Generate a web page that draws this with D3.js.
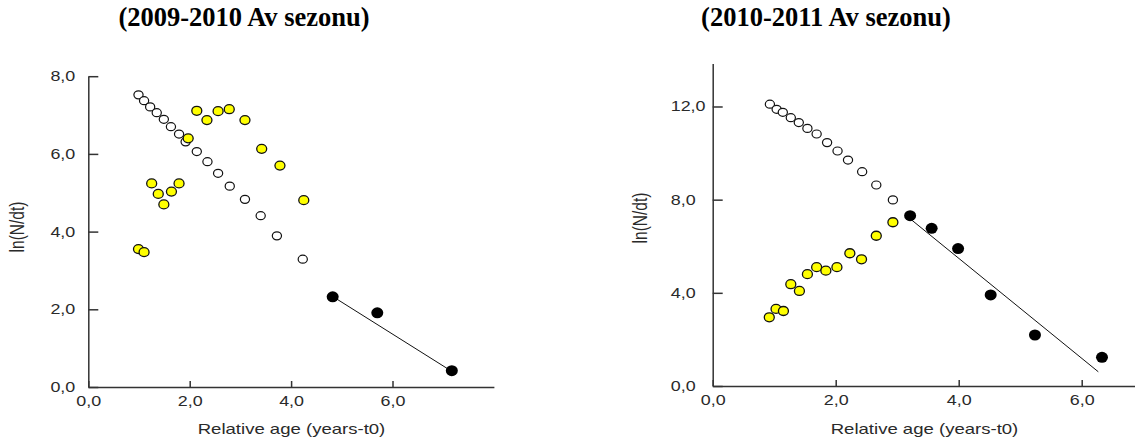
<!DOCTYPE html>
<html>
<head>
<meta charset="utf-8">
<script src="https://cdn.jsdelivr.net/npm/d3@7"></script>
<style>
  body { margin: 0; background: #fff; }
  svg { display: block; }
</style>
</head>
<body>
<svg id="chart" width="1135" height="445"></svg>
<script>
// left panel, 2009-2010 season
const titleLeft = '(2009-2010 Av sezonu)'
const openAgeLeft = [0.99, 1.10, 1.22, 1.35, 1.49, 1.63, 1.79, 1.92, 2.14, 2.35, 2.56, 2.79, 3.09, 3.40, 3.72, 4.23]
const openLnLeft = [7.52, 7.37, 7.21, 7.06, 6.89, 6.70, 6.51, 6.31, 6.06, 5.80, 5.50, 5.17, 4.83, 4.41, 3.89, 3.29]
const yellowAgeLeft = [0.99, 1.10, 1.25, 1.38, 1.49, 1.64, 1.79, 1.97, 2.14, 2.34, 2.56, 2.78, 3.09, 3.42, 3.78, 4.25]
const yellowLnLeft = [3.55, 3.47, 5.24, 4.97, 4.70, 5.03, 5.24, 6.40, 7.11, 6.87, 7.10, 7.15, 6.87, 6.13, 5.70, 4.81]
const blackAgeLeft = [4.82, 5.70, 7.17]
const blackLnLeft = [2.32, 1.91, 0.42]
const fitAgeLeft = [4.82, 7.10]
const fitLnLeft = [2.33, 0.46]
const tickXLeft = [0, 2, 4, 6]
const tickYLeft = [0, 2, 4, 6, 8]

// right panel, 2010-2011 season
const titleRight = '(2010-2011 Av sezonu)'
const openAgeRight = [0.93, 1.04, 1.14, 1.27, 1.40, 1.54, 1.69, 1.86, 2.03, 2.20, 2.43, 2.66, 2.93]
const openLnRight = [12.10, 11.88, 11.75, 11.52, 11.31, 11.06, 10.82, 10.45, 10.09, 9.70, 9.20, 8.63, 7.99]
const yellowAgeRight = [0.92, 1.03, 1.15, 1.27, 1.41, 1.54, 1.69, 1.84, 2.02, 2.23, 2.42, 2.66, 2.93]
const yellowLnRight = [2.95, 3.31, 3.22, 4.37, 4.08, 4.80, 5.10, 4.95, 5.10, 5.70, 5.44, 6.45, 7.03]
const blackAgeRight = [3.21, 3.56, 3.99, 4.52, 5.24, 6.33]
const blackLnRight = [7.31, 6.77, 5.90, 3.91, 2.19, 1.23]
const fitAgeRight = [3.21, 6.27]
const fitLnRight = [7.18, 0.61]
const tickXRight = [0, 2, 4, 6]
const tickYRight = [0, 4, 8, 12]

const xLabel = 'Relative age (years-t0)'
const yLabel = 'ln(N/dt)'

const svg = d3.select('#chart')
const stretch = 1.28
const sans = "'Liberation Sans', Arial, sans-serif"
const fmt = (d) => d3.format('.1f')(d).replace('.', ',')
const zip = (a, b) => a.map((v, i) => [v, b[i]])

const drawPanel = (p) => {
  const x = d3.scaleLinear().domain(p.xDomain).range(p.xRange)
  const y = d3.scaleLinear().domain(p.yDomain).range(p.yRange)
  const g = svg.append('g')

  g.append('text')
    .attr('x', p.titleX)
    .attr('y', 26)
    .attr('text-anchor', 'middle')
    .style('font-family', "'Liberation Serif', 'Times New Roman', serif")
    .style('font-weight', 'bold')
    .style('font-size', '26.5px')
    .text(p.title)

  // y axis, ticks point inward
  const ya = g.append('g')
    .attr('transform', `translate(${x(0)},0)`)
    .call(d3.axisLeft(y).tickValues(p.yTicks).tickFormat(fmt).tickSizeInner(-10).tickSizeOuter(0))
  ya.selectAll('text')
    .attr('x', null)
    .attr('text-anchor', p.yAnchor)
    .attr('transform', `translate(${p.yLabelDx},0) scale(${stretch},1)`)

  const xa = g.append('g')
    .attr('transform', `translate(0,${y(0)})`)
    .call(d3.axisBottom(x).tickValues(p.xTicks).tickFormat(fmt).tickSizeInner(-6).tickSizeOuter(0))
  xa.selectAll('text')
    .attr('y', null)
    .attr('transform', `translate(0,9) scale(${stretch},1)`)

  g.selectAll('.domain, .tick line').attr('stroke', '#333').attr('stroke-width', 1.5)
  g.selectAll('.tick text')
    .style('font-family', sans)
    .style('font-size', '14px')
    .attr('fill', '#2a2a2a')

  g.append('text')
    .attr('transform', `translate(${p.xTitleX},434) scale(${stretch},1)`)
    .attr('text-anchor', 'middle')
    .style('font-family', sans)
    .style('font-size', '14.5px')
    .attr('fill', '#2a2a2a')
    .text(xLabel)

  g.append('text')
    .attr('transform', `translate(${p.yTitleX},${p.yTitleY}) scale(${stretch},1) rotate(-90)`)
    .attr('text-anchor', 'middle')
    .style('font-family', sans)
    .style('font-size', '15.5px')
    .attr('fill', '#2a2a2a')
    .text(yLabel)

  // open circles
  g.append('g').selectAll('ellipse')
    .data(zip(p.openAge, p.openLn))
    .join('ellipse')
    .attr('cx', (d) => x(d[0]))
    .attr('cy', (d) => y(d[1]))
    .attr('rx', 4.6)
    .attr('ry', 4)
    .attr('fill', '#fff')
    .attr('stroke', '#111')
    .attr('stroke-width', 1.2)

  g.append('g').selectAll('ellipse')
    .data(zip(p.yellowAge, p.yellowLn))
    .join('ellipse')
    .attr('cx', (d) => x(d[0]))
    .attr('cy', (d) => y(d[1]))
    .attr('rx', 5)
    .attr('ry', 4.5)
    .attr('fill', '#ffff00')
    .attr('stroke', '#111')
    .attr('stroke-width', 1.3)

  g.append('path')
    .datum(zip(p.fitAge, p.fitLn))
    .attr('fill', 'none')
    .attr('stroke', '#111')
    .attr('stroke-width', 1)
    .attr('d', d3.line().x((d) => x(d[0])).y((d) => y(d[1])))

  g.append('g').selectAll('ellipse')
    .data(zip(p.blackAge, p.blackLn))
    .join('ellipse')
    .attr('cx', (d) => x(d[0]))
    .attr('cy', (d) => y(d[1]))
    .attr('rx', 6)
    .attr('ry', 5.5)
    .attr('fill', '#000')
}

drawPanel({
  title: titleLeft, titleX: 244,
  xDomain: [0, 8], xRange: [88.3, 493.9],
  yDomain: [0, 8], yRange: [387, 76.2],
  xTicks: tickXLeft, yTicks: tickYLeft,
  yAnchor: 'end', yLabelDx: -13,
  xTitleX: 291.5, yTitleX: 24, yTitleY: 227,
  openAge: openAgeLeft, openLn: openLnLeft,
  yellowAge: yellowAgeLeft, yellowLn: yellowLnLeft,
  blackAge: blackAgeLeft, blackLn: blackLnLeft,
  fitAge: fitAgeLeft, fitLn: fitLnLeft
})

drawPanel({
  title: titleRight, titleX: 826,
  xDomain: [0, 7], xRange: [712.7, 1143.2],
  yDomain: [0, 13.85], yRange: [386, 63.4],
  xTicks: tickXRight, yTicks: tickYRight,
  yAnchor: 'start', yLabelDx: -42,
  xTitleX: 924.5, yTitleX: 647, yTitleY: 218,
  openAge: openAgeRight, openLn: openLnRight,
  yellowAge: yellowAgeRight, yellowLn: yellowLnRight,
  blackAge: blackAgeRight, blackLn: blackLnRight,
  fitAge: fitAgeRight, fitLn: fitLnRight
})
</script>
</body>
</html>
